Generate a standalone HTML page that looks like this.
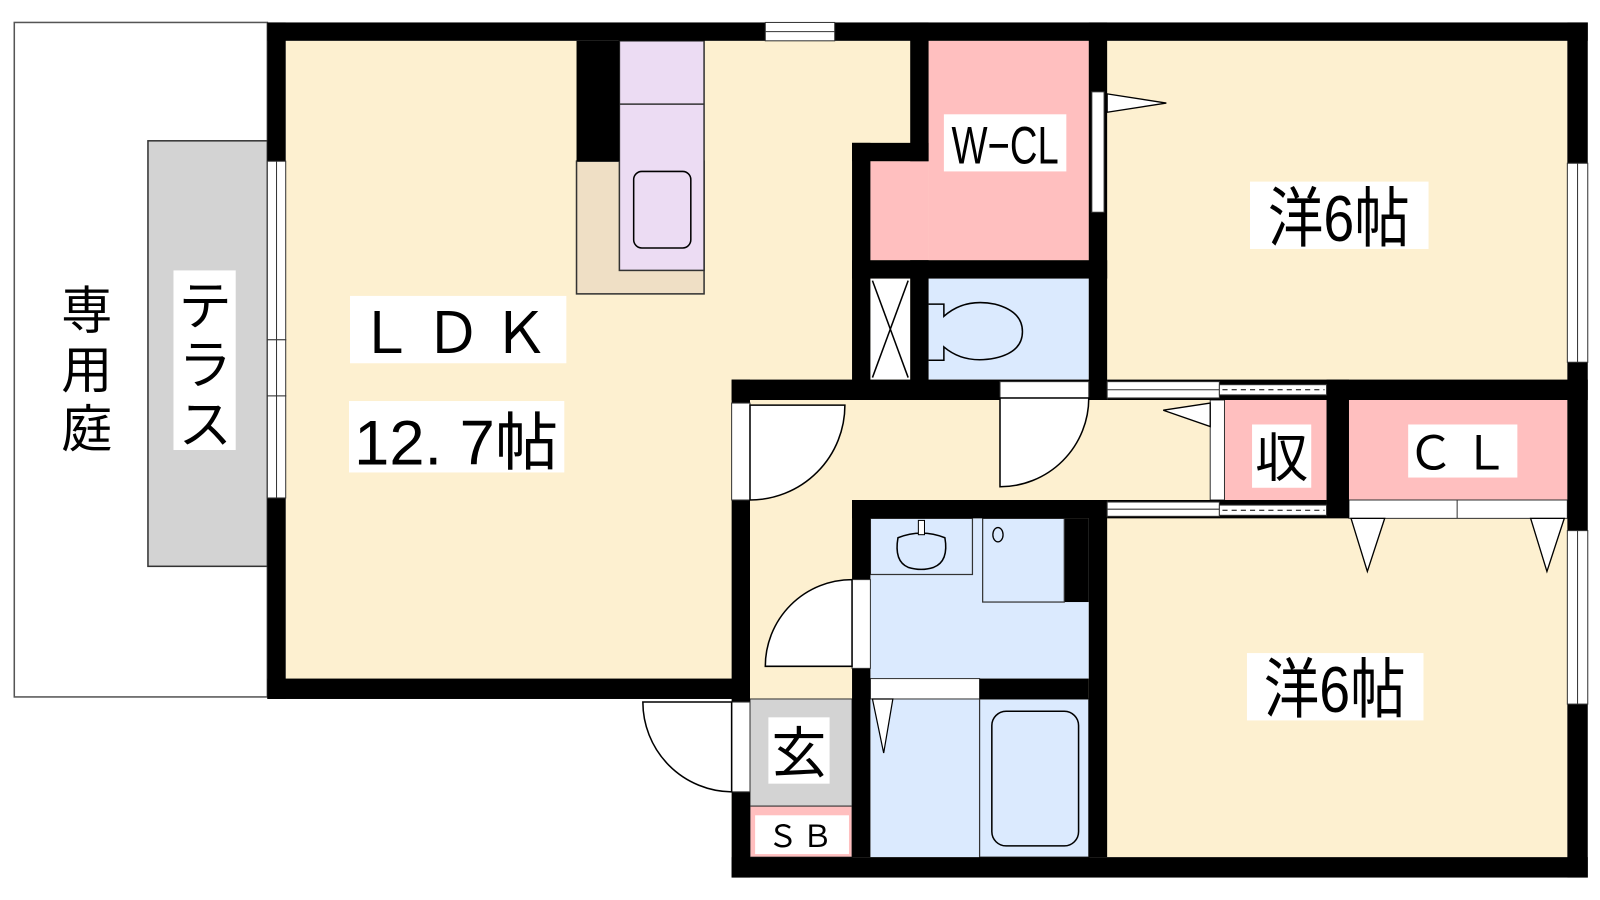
<!DOCTYPE html>
<html><head><meta charset="utf-8"><style>
html,body{margin:0;padding:0;background:#fff;}
svg{display:block;}
text{font-family:"Liberation Sans","Noto Sans CJK JP",sans-serif;fill:#000;}
</style></head><body>
<svg width="1600" height="900" viewBox="0 0 1568 882" xmlns="http://www.w3.org/2000/svg">
<!-- garden -->
<rect x="14" y="22" width="248" height="661" fill="#fff" stroke="#555" stroke-width="1.5"/>
<rect x="145" y="138" width="117" height="417" fill="#d3d3d3" stroke="#333" stroke-width="1.5"/>
<!-- floors -->
<rect x="280" y="40" width="1256" height="800" fill="#fdf0d0"/>
<rect x="262" y="685" width="455" height="200" fill="#fff"/>
<!-- W-CL pink -->
<rect x="910" y="40" width="157" height="215" fill="#ffbfbf"/>
<rect x="853" y="158" width="57" height="97" fill="#ffbfbf"/>
<!-- toilet -->
<rect x="910" y="273" width="157" height="99" fill="#dbeafe"/>
<rect x="853" y="273" width="39" height="99" fill="#fff"/>
<line x1="855" y1="275" x2="890" y2="370" stroke="#000" stroke-width="1.5"/>
<line x1="890" y1="275" x2="855" y2="370" stroke="#000" stroke-width="1.5"/>
<path d="M910 298 H925 V310 Q945 292 975 298 Q1002 305 1002 325 Q1002 345 975 351 Q945 357 925 340 V353 H910" fill="none" stroke="#000" stroke-width="1.5"/>
<!-- kitchen -->
<rect x="565" y="158" width="125" height="130" fill="#efdfc5" stroke="#333" stroke-width="1.5"/>
<rect x="607" y="40" width="83" height="225" fill="#ecdcf3" stroke="#333" stroke-width="1.5"/>
<line x1="607" y1="102" x2="690" y2="102" stroke="#333" stroke-width="1.5"/>
<rect x="621" y="168" width="56" height="75" rx="8" fill="none" stroke="#000" stroke-width="1.5"/>
<rect x="565" y="40" width="42" height="118" fill="#000"/>
<!-- bath/wash -->
<rect x="853" y="508" width="214" height="157" fill="#dbeafe"/>
<rect x="853" y="685" width="214" height="155" fill="#dbeafe"/>
<rect x="853" y="665" width="107" height="20" fill="#fff" stroke="#333" stroke-width="1"/>
<rect x="1043" y="508" width="24" height="82" fill="#000"/>
<rect x="853" y="508" width="100" height="55" fill="none" stroke="#333" stroke-width="1.2"/>
<rect x="963" y="508" width="80" height="82" fill="none" stroke="#333" stroke-width="1.2"/>
<path d="M880 527 Q903 518 926 527 Q930 550 915 556 Q903 560 890 556 Q876 550 880 527 Z" fill="none" stroke="#000" stroke-width="1.5"/>
<rect x="900" y="510" width="6" height="14" fill="#fff" stroke="#000" stroke-width="1"/>
<ellipse cx="978" cy="524" rx="5" ry="7" fill="none" stroke="#000" stroke-width="1.3"/>
<rect x="960" y="685" width="107" height="155" fill="none" stroke="#333" stroke-width="1.2"/>
<rect x="972" y="697" width="85" height="132" rx="14" fill="none" stroke="#000" stroke-width="1.5"/>
<path d="M855 685 L866 738 L875 685 Z" fill="#fff" stroke="#000" stroke-width="1.2"/>
<!-- genkan -->
<rect x="735" y="685" width="100" height="105" fill="#d3d3d3" stroke="#333" stroke-width="1"/>
<rect x="735" y="790" width="100" height="50" fill="#ffbfbf" stroke="#333" stroke-width="1"/>
<!-- storage -->
<rect x="1200" y="392" width="100" height="98" fill="#ffbfbf"/>
<rect x="1186" y="392" width="14" height="98" fill="#fff" stroke="#333" stroke-width="1"/>
<rect x="1322" y="392" width="214" height="98" fill="#ffbfbf"/>
<rect x="1322" y="490" width="214" height="18" fill="#fff" stroke="#333" stroke-width="1"/>
<line x1="1428" y1="490" x2="1428" y2="508" stroke="#333"/>
<path d="M1324 508 L1340 560 L1357 508 Z" fill="#fff" stroke="#000" stroke-width="1.3"/>
<path d="M1500 508 L1516 560 L1533 508 Z" fill="#fff" stroke="#000" stroke-width="1.3"/>
<path d="M1186 395 L1140 402 L1186 418 Z" fill="#fff" stroke="#000" stroke-width="1.3"/>
<!-- walls -->
<g fill="#000">
<rect x="262" y="22" width="1294" height="18"/>
<rect x="262" y="22" width="18" height="663"/>
<rect x="262" y="665" width="473" height="20"/>
<rect x="1536" y="22" width="20" height="838"/>
<rect x="717" y="840" width="839" height="20"/>
<rect x="717" y="372" width="18" height="488"/>
<rect x="717" y="372" width="368" height="20"/>
<rect x="835" y="140" width="18" height="252"/>
<rect x="835" y="140" width="75" height="18"/>
<rect x="892" y="22" width="18" height="136"/>
<rect x="1067" y="22" width="18" height="370"/>
<rect x="835" y="255" width="250" height="18"/>
<rect x="892" y="255" width="18" height="137"/>
<rect x="1085" y="372" width="471" height="20"/>
<rect x="1300" y="372" width="22" height="136"/>
<rect x="835" y="490" width="250" height="18"/>
<rect x="835" y="490" width="18" height="350"/>
<rect x="1067" y="490" width="18" height="350"/>
<rect x="1085" y="490" width="215" height="18"/>
<rect x="960" y="665" width="107" height="20"/>
</g>
<!-- windows / openings -->
<g fill="#fff" stroke="#333" stroke-width="1">
<rect x="750" y="22" width="68" height="18"/><line x1="750" y1="31" x2="818" y2="31"/>
<rect x="262" y="158" width="18" height="175"/><rect x="262" y="333" width="18" height="55"/>
<rect x="262" y="388" width="18" height="100"/>
<line x1="271" y1="158" x2="271" y2="488"/>
<rect x="1536" y="160" width="20" height="195"/><line x1="1546" y1="160" x2="1546" y2="355"/>
<rect x="1536" y="520" width="20" height="170"/><line x1="1546" y1="520" x2="1546" y2="690"/>
<rect x="1070" y="90" width="12" height="118"/>
<rect x="1085" y="374" width="110" height="16"/><line x1="1085" y1="382" x2="1195" y2="382"/>
<rect x="1085" y="492" width="110" height="14"/><line x1="1085" y1="499" x2="1195" y2="499"/>
<rect x="1195" y="377" width="105" height="10"/><rect x="1195" y="495" width="105" height="10"/>
<rect x="717" y="395" width="18" height="95"/>
<rect x="980" y="374" width="87" height="16"/>
<rect x="835" y="568" width="18" height="87"/>
<rect x="717" y="688" width="18" height="88"/>
</g>
<line x1="1198" y1="382" x2="1298" y2="382" stroke="#000" stroke-dasharray="5,4"/>
<line x1="1198" y1="500" x2="1298" y2="500" stroke="#000" stroke-dasharray="5,4"/>
<path d="M1085 92 L1143 101 L1085 110 Z" fill="#fff" stroke="#000" stroke-width="1.3"/>
<!-- door swings -->
<g fill="#fff" stroke="#000" stroke-width="1.5">
<path d="M735 397 H828 A93 93 0 0 1 735 490 Z"/>
<path d="M980 390 H1067 A87 87 0 0 1 980 477 Z"/>
<path d="M835 568 A85 85 0 0 0 750 653 H835 Z"/>
<path d="M717 688 H630 A88 88 0 0 0 717 776 Z"/>
</g>
<!-- labels -->
<g>
<text x="85" y="322" font-size="50" text-anchor="middle">専</text>
<text x="85" y="380" font-size="50" text-anchor="middle">用</text>
<text x="85" y="438" font-size="50" text-anchor="middle">庭</text>
<rect x="170" y="265" width="61" height="176" fill="#fff"/>
<text x="201" y="318" font-size="52" text-anchor="middle">テ</text>
<text x="201" y="376" font-size="52" text-anchor="middle">ラ</text>
<text x="201" y="434" font-size="52" text-anchor="middle">ス</text>
<rect x="343" y="290" width="212" height="66" fill="#fff"/>
<text x="449" y="346" font-size="56" text-anchor="middle" letter-spacing="10">ＬＤＫ</text>
<rect x="342" y="393" width="211" height="70" fill="#fff"/>
<text x="447" y="455" font-size="62" text-anchor="middle">12. 7帖</text>
<rect x="925" y="112" width="120" height="56" fill="#fff"/>
<text x="985" y="160" font-size="52" text-anchor="middle" transform="translate(985 0) scale(0.72 1) translate(-985 0)">W−CL</text>
<rect x="1225" y="178" width="175" height="66" fill="#fff"/>
<text x="1312" y="236" font-size="64" text-anchor="middle" transform="translate(1312 0) scale(0.85 1) translate(-1312 0)">洋6帖</text>
<rect x="1222" y="640" width="173" height="66" fill="#fff"/>
<text x="1308" y="698" font-size="64" text-anchor="middle" transform="translate(1308 0) scale(0.85 1) translate(-1308 0)">洋6帖</text>
<rect x="1227" y="416" width="58" height="62" fill="#fff"/>
<text x="1256" y="467" font-size="52" text-anchor="middle">収</text>
<rect x="1380" y="416" width="107" height="52" fill="#fff"/>
<text x="1433" y="460" font-size="46" text-anchor="middle" letter-spacing="8">ＣＬ</text>
<rect x="753" y="703" width="60" height="65" fill="#fff"/>
<text x="783" y="757" font-size="54" text-anchor="middle">玄</text>
<rect x="740" y="799" width="92" height="38" fill="#fff"/>
<text x="786" y="830" font-size="30" text-anchor="middle" letter-spacing="4">ＳＢ</text>
</g>
</svg>
</body></html>
